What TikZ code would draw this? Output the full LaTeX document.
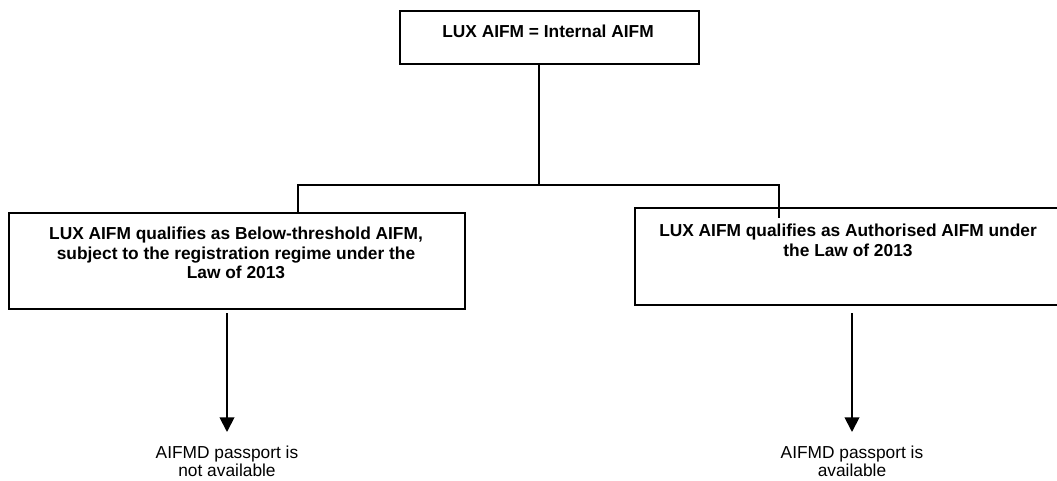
\documentclass[tikz,border=0pt]{standalone}
\usepackage{fontspec}
\setmainfont{Liberation Sans}
\usetikzlibrary{arrows.meta}
\begin{document}
\begin{tikzpicture}[x=0.75pt,y=-0.75pt,
  box/.style={draw=black,line width=1.4pt,rectangle,inner sep=0pt,anchor=north west},
  btxt/.style={font=\bfseries\fontsize{13}{14.6}\selectfont,align=center,inner sep=0pt},
  ntxt/.style={font=\fontsize{13}{13.6}\selectfont,align=center,inner sep=0pt},
  conn/.style={line width=1.4pt},
  arr/.style={line width=1.4pt,-{Triangle[width=11pt,length=11pt]},shorten >=10.5pt}]
\clip (0,0) rectangle (1057,481);
\fill[white] (0,0) rectangle (1057,481);
% boxes
\node[box,minimum width=299*0.75pt,minimum height=53*0.75pt] (top) at (399,10) {};
\node[box,minimum width=456*0.75pt,minimum height=96*0.75pt] (left) at (8,212) {};
\node[box,minimum width=440*0.75pt,minimum height=97*0.75pt] (right) at (634,207) {};
% texts
\node[btxt] (toptxt) at (548,31) {LUX AIFM = Internal AIFM};
\node[btxt,anchor=north] (lefttxt) at (236,227) {LUX AIFM qualifies as Below-threshold AIFM,\\subject to the registration regime under the\\Law of 2013};
\node[btxt,anchor=north] (righttxt) at (848,224) {LUX AIFM qualifies as Authorised AIFM under\\the Law of 2013};
\node[ntxt,anchor=north] (lres) at (227,446) {AIFMD passport is\\not available};
\node[ntxt,anchor=north] (rres) at (852,446) {AIFMD passport is\\available};
% connectors
\coordinate (ts) at (539,63);
\coordinate (j) at (539,185);
\coordinate (jl) at (298,185);
\coordinate (jr) at (779,185);
\coordinate (le) at (298,212);
\coordinate (re) at (779,218);
\draw[conn] (ts) -- (j);
\draw[conn] (le) -- (jl) -- (jr) -- (re);
\coordinate (la) at (227,313);
\coordinate (ra) at (852,313);
\draw[arr] (la) -- (lres.north);
\draw[arr] (ra) -- (rres.north);
\end{tikzpicture}
\end{document}
